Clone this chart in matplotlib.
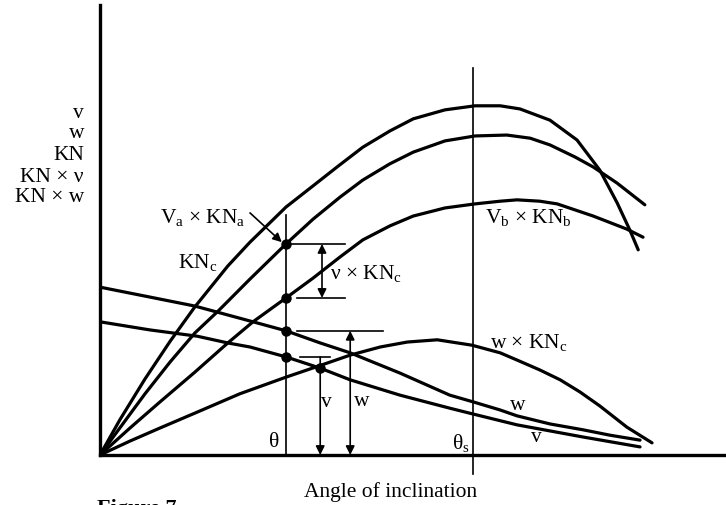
import numpy as np
import matplotlib
matplotlib.use("Agg")
import matplotlib.pyplot as plt

plt.rcParams["font.family"] = ["Liberation Serif", "DejaVu Serif"]
plt.rcParams["mathtext.fontset"] = "custom"
plt.rcParams["mathtext.rm"] = "Liberation Serif"
plt.rcParams["mathtext.it"] = "Liberation Serif:italic"

# ---- curves: angle of inclination vs. ordinate (arbitrary units) ----
kn_c_x = [0, 3.3, 7.5, 11.7, 15.8, 21.3, 25.0, 31.0, 35.5, 39.7, 43.8, 48.3,
          52.2, 57.5, 62.5, 66.7, 70.0, 75.0, 79.5, 83.3, 86.2, 88.3, 89.7]
kn_c_y = [0, 7.8, 16.9, 25.3, 32.9, 42.0, 47.3, 55.1, 59.8, 64.2, 68.4, 72.0,
          74.7, 76.7, 77.6, 77.6, 76.9, 74.4, 70.0, 63.3, 56.0, 50.0, 45.6]

va_kna_x = [0, 3.3, 7.5, 11.7, 15.8, 19.7, 25.0, 31.0, 35.5, 40.0, 43.8, 48.3,
            52.2, 57.5, 62.5, 67.8, 71.7, 75.0, 79.2, 82.2, 86.2, 90.8]
va_kna_y = [0, 6.0, 13.6, 20.7, 27.1, 32.0, 39.1, 46.9, 52.4, 57.3, 61.1, 64.7,
            67.3, 69.8, 70.9, 71.1, 70.4, 68.9, 66.2, 64.0, 60.4, 55.6]

vb_knb_x = [0, 5.0, 10.0, 15.8, 21.3, 25.5, 31.0, 35.5, 40.0, 43.8, 48.3, 52.2,
            57.5, 62.5, 66.7, 69.5, 73.3, 76.2, 82.2, 87.8, 90.5]
vb_knb_y = [0, 6.0, 11.8, 18.4, 24.9, 29.6, 34.9, 39.3, 44.0, 47.8, 50.9, 53.1,
            54.9, 55.8, 56.4, 56.7, 56.4, 55.8, 53.1, 50.2, 48.4]

w_knc_x = [0, 5.0, 10.0, 15.8, 23.3, 31.0, 36.5, 41.7, 46.7, 51.2, 56.2, 62.0,
           66.7, 69.5, 73.3, 76.7, 80.0, 83.3, 87.8, 92.0]
w_knc_y = [0, 3.1, 6.0, 9.3, 13.6, 17.3, 19.8, 22.2, 24.0, 25.1, 25.6, 24.4,
           22.7, 21.1, 18.9, 16.7, 14.0, 10.9, 6.2, 2.7]

w_x = [0, 8.3, 15.8, 25.5, 31.0, 36.7, 41.7, 50.0, 58.3, 62.2, 66.7, 69.5,
       75.0, 80.5, 85.0, 90.0]
w_y = [37.3, 35.1, 33.1, 29.6, 27.6, 24.9, 22.7, 18.2, 13.3, 11.8, 10.0, 8.7,
       6.9, 5.6, 4.4, 3.3]

v_x = [0, 8.3, 16.2, 21.3, 25.0, 31.0, 36.7, 41.7, 50.0, 58.3, 62.2, 69.5,
       80.5, 90.0]
v_y = [29.6, 27.8, 26.4, 24.9, 24.0, 21.8, 19.3, 16.7, 13.3, 10.4, 9.1, 6.7,
       4.0, 1.8]

theta = 31.0        # working angle
theta_s = 62.2      # angle of maximum righting
v_at = 36.7         # where v is carried across to the w x KNc curve
w_at = 41.7         # where w meets the w x KNc curve

y_axis_labels = ["v", "w", "KN", "KN × ν", "KN × w"]

# ---------------------------------------------------------------------
W, H = 726, 505
fig = plt.figure(figsize=(W / 100, H / 100), dpi=100)
ax = fig.add_axes([100 / W, 50 / H, 626 / W, 450 / H])
ax.set_xlim(0, 104.33)
ax.set_ylim(0, 100)
for s in ("top", "right"):
    ax.spines[s].set_visible(False)
for s in ("left", "bottom"):
    ax.spines[s].set_linewidth(2.4)
ax.set_xticks([])
ax.set_yticks([])

thick = dict(color="black", lw=2.3, solid_capstyle="round", solid_joinstyle="round")
for xs, ys in [(kn_c_x, kn_c_y), (va_kna_x, va_kna_y), (vb_knb_x, vb_knb_y),
               (w_knc_x, w_knc_y), (w_x, w_y), (v_x, v_y)]:
    ax.plot(xs, ys, **thick)

thin = dict(color="black", lw=1.2)

# vertical at theta and theta_s
ax.plot([theta, theta], [0, 53.3], **thin)
ax.plot([theta_s, theta_s], [-4.2, 86.0], clip_on=False, **thin)

# values picked off at theta
yb = np.interp(theta, va_kna_x, va_kna_y)
yc = np.interp(theta, vb_knb_x, vb_knb_y)
yw = np.interp(theta, w_x, w_y)
yv = np.interp(theta, v_x, v_y)
yd = np.interp(v_at, v_x, v_y)
ax.plot([theta] * 4, [yb, yc, yw, yv], "o", color="black", ms=6.5, zorder=5)
ax.plot([v_at], [yd], "o", color="black", ms=6.5, zorder=5)

# horizontal carry-over bars
ax.plot([theta, 40.8], [yb, yb], **thin)
ax.plot([32.8, 40.8], [yc, yc], **thin)
ax.plot([32.8, 47.2], [yw, yw], **thin)
ax.plot([33.3, 38.3], [yv, yv], **thin)

arrow = dict(color="black", lw=1.2, shrinkA=0, shrinkB=0, mutation_scale=13)
ax.annotate("", xy=(37.0, yb), xytext=(37.0, yc),
            arrowprops=dict(arrowstyle="<|-|>", **arrow))
ax.annotate("", xy=(v_at, 0), xytext=(v_at, yv),
            arrowprops=dict(arrowstyle="-|>", **arrow))
ax.annotate("", xy=(w_at, 0), xytext=(w_at, yw),
            arrowprops=dict(arrowstyle="<|-|>", **arrow))
ax.annotate("", xy=(30.3, 47.3), xytext=(25.0, 53.8),
            arrowprops=dict(arrowstyle="-|>", **arrow))

fs = 15.5
ax.text(10.0, 52.7, r"V$_{\rm a}$ × KN$_{\rm a}$", fontsize=fs, va="center")
ax.text(13.0, 42.7, r"KN$_{\rm c}$", fontsize=fs, va="center")
ax.text(38.3, 40.4, r"ν × KN$_{\rm c}$", fontsize=fs, va="center")
ax.text(64.2, 52.7, r"V$_{\rm b}$ × KN$_{\rm b}$", fontsize=fs, va="center")
ax.text(65.0, 25.1, r"w × KN$_{\rm c}$", fontsize=fs, va="center")
ax.text(69.7, 11.1, "w", fontsize=fs, ha="center", va="center")
ax.text(72.7, 3.8, "v", fontsize=fs, ha="center", va="center")
ax.text(37.8, 11.6, "v", fontsize=fs, ha="center", va="center")
ax.text(43.7, 11.8, "w", fontsize=fs, ha="center", va="center")
ax.text(29.0, 2.7, "θ", fontsize=fs, ha="center", va="center")
ax.text(58.7, 2.7, r"θ$_{\rm s}$", fontsize=fs, ha="left", va="center")

for lab, py in zip(y_axis_labels, [113, 133, 155, 178, 198]):
    fig.text(84 / W, 1 - py / H, lab, fontsize=fs, ha="right", va="center")

fig.text(391 / W, 1 - 492 / H, "Angle of inclination", fontsize=fs,
         ha="center", va="center")
fig.text(97 / W, 1 - 499 / H, "Figure 7", fontsize=16, fontweight="bold",
         ha="left", va="top")

fig.savefig("out.png", dpi=100)
